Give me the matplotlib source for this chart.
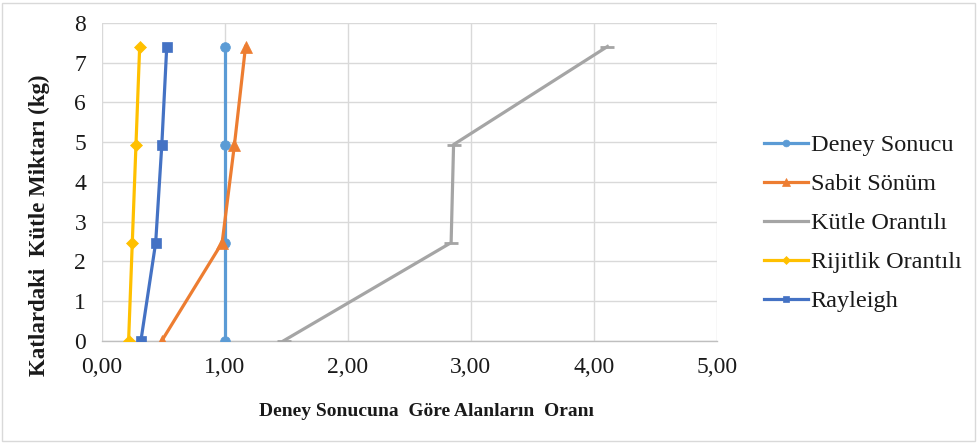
import matplotlib
matplotlib.use("Agg")
import matplotlib.pyplot as plt
from matplotlib.patches import Rectangle

plt.rcParams['font.family'] = ['Liberation Serif', 'DejaVu Serif']

# Kat kütle miktarları (kg)
kutle = [0, 2.47, 4.94, 7.41]

# Deney sonucuna göre alanların oranı
deney_sonucu = [1.00, 1.00, 1.00, 1.00]
sabit_sonum = [0.49, 0.98, 1.08, 1.17]
kutle_orantili = [1.48, 2.84, 2.86, 4.11]
rijitlik_orantili = [0.22, 0.25, 0.28, 0.31]
rayleigh = [0.32, 0.44, 0.49, 0.53]

x_ticks = [0, 1, 2, 3, 4, 5]
x_tick_labels = ["0,00", "1,00", "2,00", "3,00", "4,00", "5,00"]
y_ticks = [0, 1, 2, 3, 4, 5, 6, 7, 8]

fig = plt.figure(figsize=(9.77, 4.43), dpi=100)
ax = fig.add_axes([0.1039, 0.2309, 0.630, 0.717])

series = [
    ("Deney Sonucu", deney_sonucu, "#5B9BD5", "o", 7),
    ("Sabit Sönüm", sabit_sonum, "#ED7D31", "^", 8),
    ("Kütle Orantılı", kutle_orantili, "#A5A5A5", "_", 10),
    ("Rijitlik Orantılı", rijitlik_orantili, "#FFC000", "D", 6),
    ("Rayleigh", rayleigh, "#4472C4", "s", 7),
]
for name, vals, col, mk, ms in series:
    ax.plot(vals, kutle, color=col, lw=2.3, marker=mk, ms=ms,
            markeredgewidth=2 if mk == "_" else 0.5, markeredgecolor=col,
            markerfacecolor=col, label=name, zorder=3)

ax.set_xlim(0, 5)
ax.set_ylim(0, 8)
ax.set_xticks(x_ticks)
ax.set_xticklabels(x_tick_labels)
ax.set_yticks(y_ticks)
ax.tick_params(axis='both', length=0, labelsize=17, colors='#1a1a1a')
ax.tick_params(axis='x', pad=12)
ax.tick_params(axis='y', pad=11)
ax.grid(True, color='#d9d9d9', lw=1)
ax.set_axisbelow(True)
for s in ['top', 'right', 'left']:
    ax.spines[s].set_visible(False)
ax.spines['bottom'].set_color('#bfbfbf')
ax.spines['bottom'].set_linewidth(1)

fig.text(0.436, 0.070, "Deney Sonucuna  Göre Alanların  Oranı", ha='center', va='center',
         fontsize=14, fontweight='bold', color='#1a1a1a')
fig.text(0.040, 0.492, "Katlardaki  Kütle Miktarı (kg)", ha='center', va='center',
         rotation=90, fontsize=16.5, fontweight='bold', color='#1a1a1a')

leg = fig.legend(loc='center left', bbox_to_anchor=(0.760, 0.496), frameon=False,
                 fontsize=17.5, labelspacing=0.70, handlelength=1.8, handletextpad=0.1,
                 markerscale=0.7)
for t in leg.get_texts():
    t.set_color('#1a1a1a')

fig.patches.append(Rectangle((0.002, 0.004), 0.996, 0.99, transform=fig.transFigure,
                             fill=False, edgecolor='#d9d9d9', lw=1))

fig.savefig("out.png", dpi=100)
